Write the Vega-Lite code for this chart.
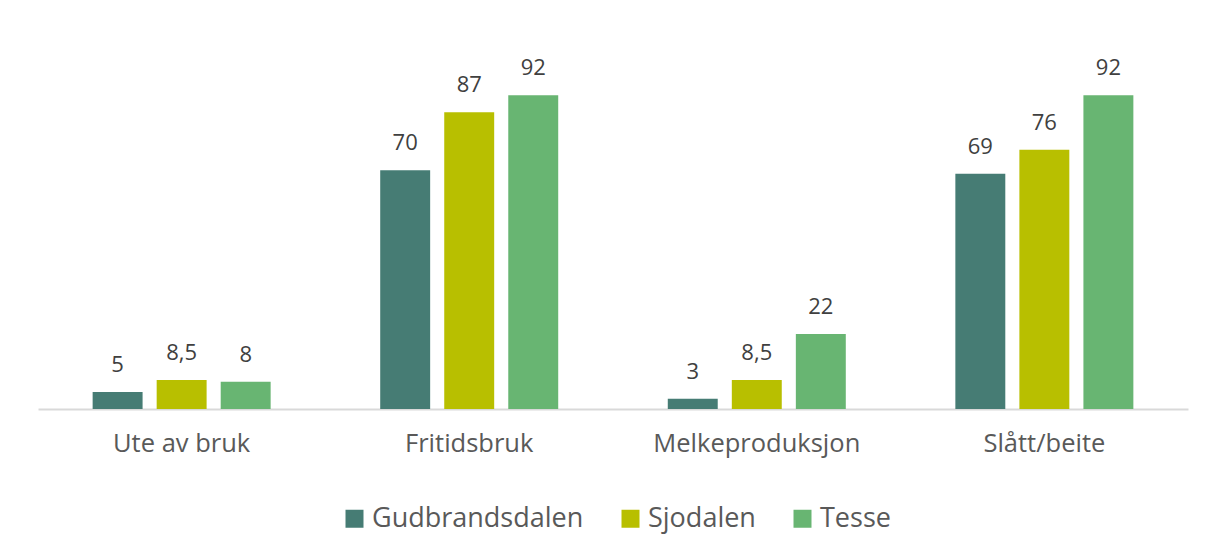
{
  "$schema": "https://vega.github.io/schema/vega-lite/v6.json",
  "width": 1150,
  "height": 341,
  "padding": {"left": 38, "top": 68, "right": 18, "bottom": 145},
  "autosize": {"type": "none"},
  "background": "white",
  "config": {
    "view": {"stroke": null},
    "font": "Open Sans"
  },
  "data": {
    "values": [
      {"kategori": "Ute av bruk", "serie": "Gudbrandsdalen", "verdi": 5, "label": "5"},
      {"kategori": "Ute av bruk", "serie": "Sjodalen", "verdi": 8.5, "label": "8,5"},
      {"kategori": "Ute av bruk", "serie": "Tesse", "verdi": 8, "label": "8"},
      {"kategori": "Fritidsbruk", "serie": "Gudbrandsdalen", "verdi": 70, "label": "70"},
      {"kategori": "Fritidsbruk", "serie": "Sjodalen", "verdi": 87, "label": "87"},
      {"kategori": "Fritidsbruk", "serie": "Tesse", "verdi": 92, "label": "92"},
      {"kategori": "Melkeproduksjon", "serie": "Gudbrandsdalen", "verdi": 3, "label": "3"},
      {"kategori": "Melkeproduksjon", "serie": "Sjodalen", "verdi": 8.5, "label": "8,5"},
      {"kategori": "Melkeproduksjon", "serie": "Tesse", "verdi": 22, "label": "22"},
      {"kategori": "Slått/beite", "serie": "Gudbrandsdalen", "verdi": 69, "label": "69"},
      {"kategori": "Slått/beite", "serie": "Sjodalen", "verdi": 76, "label": "76"},
      {"kategori": "Slått/beite", "serie": "Tesse", "verdi": 92, "label": "92"}
    ]
  },
  "encoding": {
    "x": {
      "field": "kategori", "type": "nominal", "sort": null,
      "scale": {"paddingInner": 0.381, "paddingOuter": 0.19},
      "axis": {
        "title": null, "labelAngle": 0, "ticks": false, "domainColor": "#D9D9D9", "domainWidth": 2,
        "labelFont": "Open Sans", "labelFontSize": 25.5, "labelColor": "#595959", "labelPadding": 22, "labelLimit": 400
      }
    },
    "xOffset": {"field": "serie", "type": "nominal", "sort": ["Gudbrandsdalen", "Sjodalen", "Tesse"], "scale": {"paddingInner": 0.22}},
    "y": {
      "field": "verdi", "type": "quantitative",
      "scale": {"domain": [0, 100]},
      "axis": null
    }
  },
  "layer": [
    {
      "mark": {"type": "bar"},
      "encoding": {
        "color": {
          "field": "serie", "type": "nominal", "sort": ["Gudbrandsdalen", "Sjodalen", "Tesse"],
          "scale": {"domain": ["Gudbrandsdalen", "Sjodalen", "Tesse"], "range": ["#467C74", "#B8BF00", "#68B572"]},
          "legend": {
            "title": null, "orient": "none", "direction": "horizontal",
            "legendX": 303, "legendY": 437,
            "symbolType": "square", "symbolSize": 324, "symbolStrokeWidth": 0,
            "labelFont": "Open Sans", "labelFontSize": 27, "labelColor": "#595959", "labelLimit": 400,
            "columnPadding": 33, "labelOffset": 4
          }
        }
      }
    },
    {
      "mark": {"type": "text", "dy": -27, "font": "Open Sans", "fontSize": 22, "color": "#404040"},
      "encoding": {"text": {"field": "label"}}
    }
  ]
}
